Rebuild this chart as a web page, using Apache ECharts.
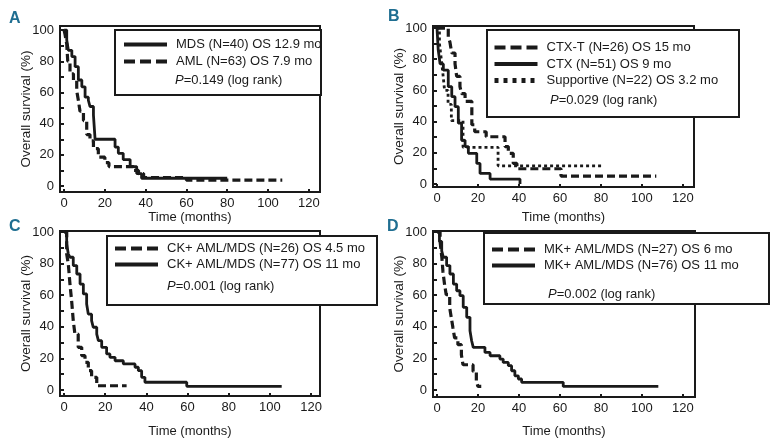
<!DOCTYPE html>
<html><head><meta charset="utf-8">
<script src="https://cdn.jsdelivr.net/npm/echarts@6/dist/echarts.min.js"></script>
<style>html,body{margin:0;padding:0;background:#fff}#c{width:777px;height:448px}</style>
</head><body><div id="c"></div>
<script>
// ---- tick labels ----
const xTickValues = [0, 20, 40, 60, 80, 100, 120];
const yLabelValues = [0, 20, 40, 60, 80, 100];
const yTickValues = [0, 10, 20, 30, 40, 50, 60, 70, 80, 90, 100];
const xAxisTitle = 'Time (months)';
const yAxisTitle = 'Overall survival (%)';

// ---- Panel A ----
const aNames = ['MDS (N=40) OS 12.9 mo', 'AML (N=63) OS 7.9 mo'];
const aP = '0.149';
const mdsTime = [0, 1.3, 2.1, 3.8, 5.4, 7, 8.7, 10.3, 11.9, 12.7, 14.4, 15.2, 25, 26.6, 29, 32.4, 35.6, 38, 80];
const mdsSurv = [100, 93.6, 87, 83, 76.5, 68, 63.6, 57, 55, 51, 45.5, 30, 25, 21, 17, 12.5, 8, 5, 5];
const amlTime = [0, 0.5, 1.3, 1.8, 2.9, 4.6, 6.2, 7, 7.8, 9.5, 11.1, 12.7, 14.4, 16.8, 20, 22, 34, 36.5, 39, 60, 107];
const amlSurv = [100, 97, 91, 80, 72, 67.5, 61, 55, 48, 42, 33, 29, 24, 18.5, 15, 12.5, 10, 8, 5.5, 3.8, 3.8];

// ---- Panel B ----
const bNames = ['CTX-T (N=26) OS 15 mo', 'CTX (N=51) OS 9 mo', 'Supportive (N=22) OS 3.2 mo'];
const bP = '0.029';
const ctxtTime = [0, 5.5, 6.3, 7.2, 8.8, 9.6, 11.2, 12, 13.7, 17, 18.4, 24, 33.2, 34.8, 37.2, 39, 60.5, 107];
const ctxtSurv = [100, 94.4, 91, 84, 77, 69, 62.4, 58, 53, 38, 33.5, 30.3, 24, 19.7, 13.2, 9.8, 5.1, 5.1];
const ctxTime = [0, 0.6, 1.5, 3.1, 5.5, 7.2, 8.8, 10.4, 12, 13.7, 15.3, 19.4, 21, 25.9, 40.5];
const ctxSurv = [100, 86, 77, 73, 62.4, 56, 49.6, 39, 28, 24, 19.7, 13.2, 6.8, 3.2, 0];
const supTime = [0, 1.2, 2.1, 2.9, 3.7, 5.4, 7, 12.7, 29.8, 80.3];
const supSurv = [100, 90, 80, 70.5, 60, 51, 40.6, 23.5, 11.7, 11.7];

// ---- Panel C ----
const cNames = ['CK+ AML/MDS (N=26) OS 4.5 mo', 'CK+ AML/MDS (N=77) OS 11 mo'];
const cP = '0.001';
const ckPosTime = [0, 1.3, 2.1, 2.9, 3.7, 4.5, 5.3, 6.9, 8.6, 10.2, 11.8, 13.4, 15.9, 30.4];
const ckPosSurv = [100, 86, 79.7, 67, 56.5, 43.9, 35.4, 27, 21.7, 17.5, 12.2, 8, 2.7, 2.7];
const ckNegTime = [0, 1.3, 2.1, 2.9, 4.5, 6.2, 7.8, 9.4, 11, 11.8, 13.4, 14.2, 15.9, 16.7, 18.3, 20.7, 22.3, 24.8, 28.8, 34.5, 36.1, 37.7, 39.3, 59.6, 105.7];
const ckNegSurv = [100, 92.4, 86, 84, 78.7, 73.4, 67, 60.8, 54.4, 48, 43.9, 39.7, 35.4, 31.2, 27, 22.8, 20.7, 18.5, 16.5, 14.4, 12.2, 8, 4.9, 2.3, 2.3];

// ---- Panel D ----
const dNames = ['MK+ AML/MDS (N=27) OS 6 mo', 'MK+ AML/MDS (N=76) OS 11 mo'];
const dP = '0.002';
const mkPosTime = [0, 1.5, 2.4, 2.9, 3.7, 4.5, 6.2, 7, 7.8, 8.6, 10.2, 11.9, 12.7, 17.6, 19.2, 20, 21.6];
const mkPosSurv = [100, 94, 83.5, 75, 66.7, 60.3, 52, 45.6, 39.2, 33, 28.7, 22.3, 16, 11.8, 5.5, 2.3, 2.3];
const mkNegTime = [0, 1.2, 2.3, 3.1, 4.7, 6.3, 8, 9.6, 11.2, 12.8, 14.5, 16.1, 16.9, 17.7, 23.4, 25.9, 30.7, 32.3, 34.8, 36.4, 38, 39.7, 41.3, 61.6, 108];
const mkNegSurv = [100, 94, 88, 84, 78.7, 73.4, 67, 62.8, 59.7, 52.3, 46, 37.5, 31.2, 27, 23.8, 21.7, 19.6, 17.5, 15.4, 12.2, 9, 7, 4.9, 2.3, 2.3];

const panelLetters = ['A', 'B', 'C', 'D'];

// ---------- build ----------
const FONT = "'Liberation Sans',Arial,sans-serif";
const INK = '#1a1a1a';
const zip = (t, s) => t.map((v, i) => [v, s[i]]);

const STY = {
  solid: {type: 'solid', width: 2.8, leg: {type: 'solid', width: 4}},
  dashed: {type: [8, 4], width: 3.2, leg: {type: [11, 5], width: 4}},
  dotted: {type: [3, 3], width: 2.8, leg: {type: [4, 5], width: 5}}
};

const panels = [
  {grid: {left: 60, top: 26, width: 260, height: 166}, x: [-2, 125.5], y: [-3.8, 102.6], xGap: 19,
   series: [[aNames[0], zip(mdsTime, mdsSurv), 'solid'], [aNames[1], zip(amlTime, amlSurv), 'dashed']], p: aP,
   box: [115, 30, 206, 65], leg: {left: 122, top: 38, gap: 4}, pPos: [175, 80], letter: [9, 19]},
  {grid: {left: 433, top: 26, width: 261, height: 161}, x: [-1.95, 125.4], y: [-1.9, 101.3], xGap: 24,
   series: [[bNames[0], zip(ctxtTime, ctxtSurv), 'dashed'], [bNames[1], zip(ctxTime, ctxSurv), 'solid'], [bNames[2], zip(supTime, supSurv), 'dotted']], p: bP,
   box: [487, 30, 252, 87], leg: {left: 492, top: 41, gap: 3.5}, pPos: [550, 100], letter: [388, 17]},
  {grid: {left: 60, top: 231, width: 260, height: 165}, x: [-1.94, 124.3], y: [-3.8, 100.6], xGap: 29,
   series: [[cNames[0], zip(ckPosTime, ckPosSurv), 'dashed'], [cNames[1], zip(ckNegTime, ckNegSurv), 'solid']], p: cP,
   box: [107, 236, 270, 69], leg: {left: 113, top: 242, gap: 3}, pPos: [167, 286], letter: [9, 227]},
  {grid: {left: 433, top: 231, width: 262, height: 166}, x: [-1.95, 125.9], y: [-4.4, 100.6], xGap: 28,
   series: [[dNames[0], zip(mkPosTime, mkPosSurv), 'dashed'], [dNames[1], zip(mkNegTime, mkNegSurv), 'solid']], p: dP,
   box: [484, 233, 285, 71], leg: {left: 490, top: 243, gap: 3}, pPos: [548, 294], letter: [387, 227]}
];

const option = {animation: false, backgroundColor: '#fff', grid: [], xAxis: [], yAxis: [], series: [], legend: [], graphic: []};

panels.forEach((P, i) => {
  option.grid.push(Object.assign({show: true, borderColor: INK, borderWidth: 2, backgroundColor: 'transparent'}, P.grid));
  option.xAxis.push({
    type: 'value', gridIndex: i, min: P.x[0], max: P.x[1],
    name: xAxisTitle, nameLocation: 'middle', nameGap: P.xGap, nameMoveOverlap: false,
    nameTextStyle: {fontFamily: FONT, fontSize: 13, color: INK},
    axisLine: {onZero: false, lineStyle: {color: INK, width: 2}},
    axisTick: {inside: true, length: 3, customValues: xTickValues, lineStyle: {color: INK, width: 2}},
    axisLabel: {customValues: xTickValues, fontFamily: FONT, fontSize: 13, color: INK, margin: 5},
    splitLine: {show: false}
  });
  option.yAxis.push({
    type: 'value', gridIndex: i, min: P.y[0], max: P.y[1],
    name: yAxisTitle, nameLocation: 'middle', nameGap: 27, nameMoveOverlap: false,
    nameTextStyle: {fontFamily: FONT, fontSize: 13.5, color: INK},
    axisLine: {onZero: false, lineStyle: {color: INK, width: 2}},
    axisTick: {inside: true, length: 4, customValues: yTickValues, lineStyle: {color: INK, width: 2}},
    axisLabel: {customValues: yLabelValues, fontFamily: FONT, fontSize: 13, color: INK, margin: 6},
    splitLine: {show: false}
  });
  const legData = [];
  P.series.forEach(([name, data, st]) => {
    const S = STY[st];
    option.series.push({
      type: 'line', name, data, xAxisIndex: i, yAxisIndex: i, step: 'end',
      symbol: 'none', z: 2, color: INK,
      lineStyle: {color: INK, width: S.width, type: S.type}
    });
    legData.push({name, lineStyle: {color: INK, width: S.leg.width, type: S.leg.type},
      itemStyle: {color: 'transparent', borderWidth: 0, opacity: 0}});
  });
  option.legend.push({
    orient: 'vertical', left: P.leg.left, top: P.leg.top, itemWidth: 43, itemHeight: 14,
    itemGap: P.leg.gap, padding: 0, z: 6, data: legData, selectedMode: false,
    itemStyle: {color: 'transparent', borderWidth: 0, opacity: 0},
    textStyle: {fontFamily: FONT, fontSize: 13, color: INK, padding: [0, 0, 0, 4]}
  });
  option.graphic.push({type: 'rect', z: 5, shape: {x: P.box[0], y: P.box[1], width: P.box[2], height: P.box[3]},
    style: {fill: '#fff', stroke: INK, lineWidth: 2}});
  option.graphic.push({type: 'text', z: 7, x: P.pPos[0], y: P.pPos[1],
    style: {text: '{i|P}=' + P.p + ' (log rank)', fontFamily: FONT, fontSize: 13, fill: INK, verticalAlign: 'middle',
      rich: {i: {fontStyle: 'italic', fontFamily: FONT, fontSize: 13, fill: INK}}}});
  option.graphic.push({type: 'text', z: 7, x: P.letter[0], y: P.letter[1],
    style: {text: panelLetters[i], fontFamily: FONT, fontWeight: 'bold', fontSize: 16, fill: '#1f6e91', verticalAlign: 'middle'}});
});

const chart = echarts.init(document.getElementById('c'), null, {renderer: 'canvas'});
chart.setOption(option);
</script>
</body></html>
